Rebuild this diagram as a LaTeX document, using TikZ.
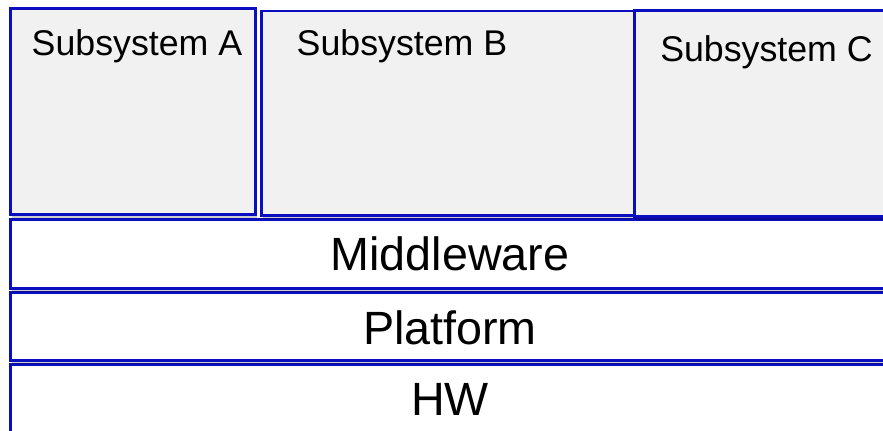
\documentclass[tikz,border=0pt]{standalone}
\usepackage{fontspec}
\setmainfont{Liberation Sans}
\usetikzlibrary{shadows}
\definecolor{edgeblue}{RGB}{10,14,190}
\definecolor{boxgrey}{RGB}{241,241,241}
\tikzset{
  block/.style={draw=edgeblue, line width=1.9pt, inner sep=0pt, anchor=north west,
    drop shadow={shadow xshift=1pt, shadow yshift=-2.5pt, opacity=0.2, fill=black}},
  subsys/.style={block, fill=boxgrey},
  layer/.style={block, fill=white},
  subtext/.style={inner sep=0pt, anchor=base, font=\fontsize{26.8}{30}\selectfont},
  layertext/.style={inner sep=0pt, anchor=base, font=\fontsize{35}{40}\selectfont}
}
\begin{document}
\begin{tikzpicture}[x=0.75pt, y=-0.75pt]
  \useasboundingbox (0,0) rectangle (883,430);
  \fill[white] (0,0) rectangle (883,430);
  \clip (0,0) rectangle (883,430);

  % stacked layers, lowest first so each shadow falls on the one below
  \node[layer, minimum width=930*0.75pt, minimum height=80*0.75pt] (hw) at (9,363) {};
  \node[layer, minimum width=930*0.75pt, minimum height=68*0.75pt] (platform) at (9,291) {};
  \node[layer, minimum width=930*0.75pt, minimum height=69*0.75pt] (middleware) at (9,218) {};

  % subsystems on top of the middleware
  \node[subsys, minimum width=245*0.75pt, minimum height=206*0.75pt] (subA) at (9,7) {};
  \node[subsys, minimum width=373*0.75pt, minimum height=204.5*0.75pt] (subB) at (260,9.5) {};
  \node[subsys, minimum width=300*0.75pt, minimum height=206*0.75pt] (subC) at (633,9) {};

  % labels
  \node[subtext] (labA) at (137,55) {Subsystem A};
  \node[subtext] (labB) at (402,55) {Subsystem B};
  \node[subtext] (labC) at (766.5,61) {Subsystem C};
  \node[layertext] (labMW) at (450,270) {Middleware};
  \node[layertext] (labPF) at (450,344) {Platform};
  \node[layertext] (labHW) at (450,415) {HW};
\end{tikzpicture}
\end{document}
